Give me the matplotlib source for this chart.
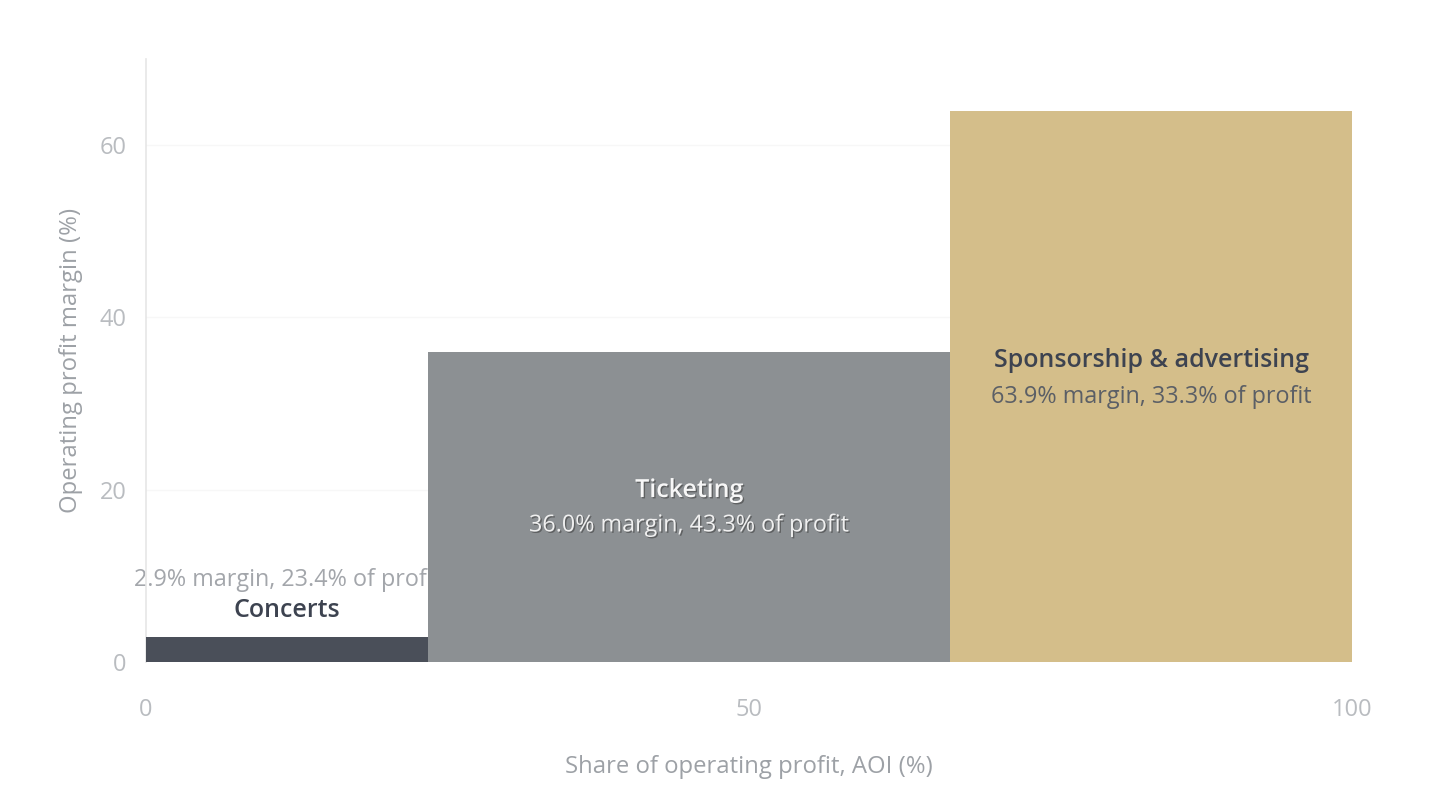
import matplotlib
matplotlib.use("Agg")
import matplotlib.pyplot as plt
import matplotlib.patheffects as pe
import numpy as np

categories = ["Concerts", "Ticketing", "Sponsorship & advertising"]
margin = [2.9, 36.0, 63.9]          # operating profit margin (%)
share = [23.4, 43.3, 33.3]          # share of operating profit (%)
colors = ["#4a4f59", "#8c9093", "#d4be8a"]
label_y_title = [6.0, 19.9, 35.0]
label_y_sub = [9.5, 15.85, 30.8]
title_colors = ["#3d4350", "#f7f7f7", "#3d4350"]
sub_colors = ["#a3a6ab", "#f0f0f0", "#5b5f66"]

plt.rcParams['font.family'] = ['Open Sans', 'DejaVu Sans']

fig = plt.figure(figsize=(14.56, 8), dpi=100)
ax = fig.add_axes([0.1003, 0.1725, 0.8283, 0.7540])

lefts = np.concatenate([[0], np.cumsum(share)[:-1]])
for i, (l, w, h) in enumerate(zip(lefts, share, margin)):
    ax.bar(l, h, width=w, align='edge', color=colors[i], zorder=3 + i, linewidth=0)

for i in range(3):
    cx = lefts[i] + share[i] / 2
    effects = None
    if i == 1:
        effects = [pe.withSimplePatchShadow(offset=(1, -1), shadow_rgbFace='#333333', alpha=0.5)]
    z = 2 if i == 0 else 10
    ax.text(cx, label_y_title[i], categories[i], ha='center', va='center', fontsize=18,
            fontweight='semibold', color=title_colors[i], zorder=z, path_effects=effects)
    ax.text(cx, label_y_sub[i], f"{margin[i]:.1f}% margin, {share[i]:.1f}% of profit",
            ha='center', va='center', fontsize=16.8, color=sub_colors[i], zorder=z,
            path_effects=effects)

ax.set_xlim(0, 100)
ax.set_ylim(0, 70)
ax.set_xticks([0, 50, 100])
ax.set_yticks([0, 20, 40, 60])
ax.tick_params(length=0, labelsize=17, labelcolor='#b9bcc0')
ax.tick_params(axis='x', pad=26)
ax.tick_params(axis='y', pad=14)
ax.grid(axis='y', color='#f7f7f7', linewidth=1, zorder=0)
ax.set_axisbelow(True)
for s in ['top', 'right', 'bottom']:
    ax.spines[s].set_visible(False)
ax.spines['left'].set_color('#e6e6e6')
ax.spines['left'].set_linewidth(1.2)

ax.set_xlabel("Share of operating profit, AOI (%)", fontsize=17.2, color='#9da1a6', labelpad=24)
ax.set_ylabel("Operating profit margin (%)", fontsize=17.2, color='#9da1a6', labelpad=12)

fig.savefig("out.png", dpi=100, facecolor='white')
